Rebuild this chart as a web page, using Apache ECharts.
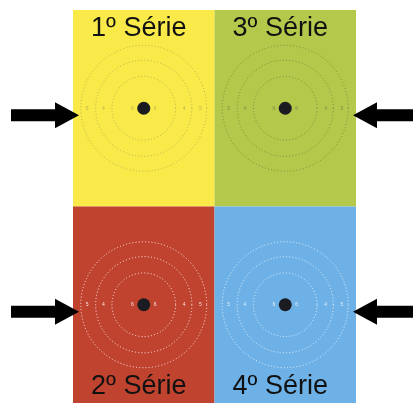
<!DOCTYPE html>
<html>
<head>
<meta charset="utf-8">
<script src="https://cdn.jsdelivr.net/npm/echarts@6/dist/echarts.min.js"></script>
<style>html,body{margin:0;padding:0;background:#fff;}#main{width:413px;height:403px;}</style>
</head>
<body>
<div id="main"></div>
<script>
// Panels (targets)
const panelNames = ['1º Série', '3º Série', '2º Série', '4º Série'];
const panelCols = [0, 1, 0, 1];
const panelRows = [0, 0, 1, 1];
const arrowSides = ['left', 'right', 'left', 'right'];
// Ring radii (x data units) and band labels
const ringRadii = [0.225, 0.34, 0.445];
const bandLabelRadii = [0.08, 0.285, 0.40];
const bandLabels = ['6', '4', '5'];
const dotRadius = 0.046;
const arrowLevel = 0.535;

const panelColors = ['#f9ea4a', '#b4c94b', '#c0432f', '#6db1e6'];
const ringColors = ['rgba(110,110,90,0.45)', 'rgba(80,90,60,0.55)', 'rgba(255,255,255,0.85)', 'rgba(255,255,255,0.8)'];

const data = panelNames.map((n, i) => [panelCols[i], panelRows[i], i]);

function renderItem(params, api) {
  const col = api.value(0), row = api.value(1), i = api.value(2);
  const tl = api.coord([col, row]);
  const br = api.coord([col + 1, row + 1]);
  const c = api.coord([col + 0.5, row + 0.5]);
  const unit = api.size([1, 0])[0];
  const children = [];
  children.push({type: 'rect', shape: {x: tl[0], y: tl[1], width: br[0] - tl[0], height: br[1] - tl[1]},
    style: {fill: panelColors[i]}});
  ringRadii.forEach(r => {
    children.push({type: 'circle', shape: {cx: c[0], cy: c[1], r: r * unit},
      style: {fill: null, stroke: ringColors[i], lineWidth: 1, lineDash: [1, 2.2]}});
  });
  bandLabelRadii.forEach((r, k) => {
    [-1, 1].forEach(s => {
      children.push({type: 'text', style: {x: c[0] + s * r * unit, y: c[1], text: bandLabels[k],
        fontSize: 5, fill: ringColors[i], align: 'center', verticalAlign: 'middle'}});
    });
  });
  children.push({type: 'circle', shape: {cx: c[0], cy: c[1], r: dotRadius * unit},
    style: {fill: '#1b1b22'}});
  // title
  const tx = c[0] - 5;
  if (row === 0) {
    children.push({type: 'text', style: {x: tx, y: tl[1] + 5, text: panelNames[i], fontSize: 27,
      fontFamily: 'Liberation Sans, Arial, sans-serif', fill: '#111', align: 'center', verticalAlign: 'top'}});
  } else {
    children.push({type: 'text', style: {x: tx, y: br[1] - 16, text: panelNames[i], fontSize: 27,
      fontFamily: 'Liberation Sans, Arial, sans-serif', fill: '#111', align: 'center', verticalAlign: 'middle'}});
  }
  // arrow
  const side = arrowSides[i];
  const ay = api.coord([0, row + arrowLevel])[1];
  const ax = side === 'left' ? tl[0] + 6 : br[0] - 3;
  const d = side === 'left' ? -1 : 1;
  const pts = [[0, 0], [24, -13], [24, -6], [68, -6], [68, 6], [24, 6], [24, 13]]
    .map(p => [ax + d * p[0], ay + p[1]]);
  children.push({type: 'polygon', shape: {points: pts}, style: {fill: '#000'}});
  return {type: 'group', children: children};
}

const chart = echarts.init(document.getElementById('main'));
chart.setOption({
  animation: false,
  grid: {left: 73, right: 57, top: 10, bottom: 0},
  xAxis: {type: 'value', min: 0, max: 2, show: false},
  yAxis: {type: 'value', min: 0, max: 2, inverse: true, show: false},
  series: [{type: 'custom', renderItem: renderItem, data: data, clip: false}]
});
</script>
</body>
</html>
